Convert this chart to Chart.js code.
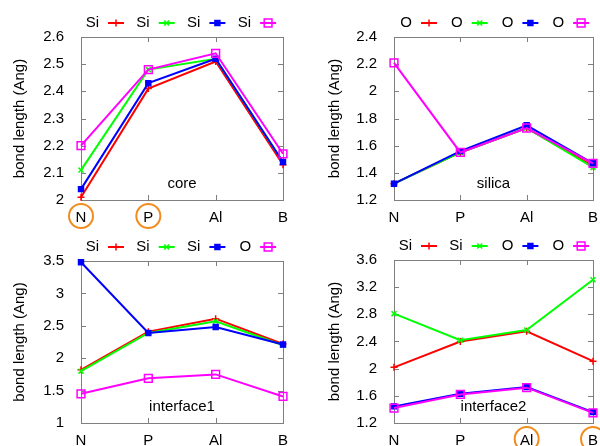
<!DOCTYPE html>
<html>
<head>
<meta charset="utf-8">
<script src="https://cdn.jsdelivr.net/npm/chart.js@4.4.1/dist/chart.umd.min.js"></script>
<style>
body { margin: 0; background: #fff; width: 600px; height: 446px; overflow: hidden; }
.panel { position: absolute; }
</style>
</head>
<body>
<div class="panel" style="left:0;top:0;z-index:2"><canvas id="core" width="300" height="240"></canvas></div>
<div class="panel" style="left:300px;top:0;z-index:2"><canvas id="silica" width="300" height="240"></canvas></div>
<div class="panel" style="left:0;top:223px;z-index:1"><canvas id="iface1" width="300" height="223"></canvas></div>
<div class="panel" style="left:300px;top:223px;z-index:1"><canvas id="iface2" width="300" height="223"></canvas></div>
<script>
const categories = ['N', 'P', 'Al', 'B']

// core
const coreLabels = ['Si', 'Si', 'Si', 'Si']
const core1 = [2.01, 2.41, 2.51, 2.13]
const core2 = [2.11, 2.48, 2.52, 2.14]
const core3 = [2.04, 2.43, 2.52, 2.14]
const core4 = [2.20, 2.48, 2.54, 2.17]
const coreTicks = [2, 2.6, 0.1]
const coreCircled = ['N', 'P']

// silica
const silicaLabels = ['O', 'O', 'O', 'O']
const silica1 = [1.32, 1.55, 1.73, 1.45]
const silica2 = [1.32, 1.55, 1.73, 1.44]
const silica3 = [1.32, 1.56, 1.75, 1.47]
const silica4 = [2.21, 1.55, 1.73, 1.47]
const silicaTicks = [1.2, 2.4, 0.2]

// interface1
const iface1Labels = ['Si', 'Si', 'Si', 'O']
const iface1a = [1.82, 2.41, 2.61, 2.22]
const iface1b = [1.80, 2.39, 2.57, 2.20]
const iface1c = [3.48, 2.39, 2.48, 2.21]
const iface1d = [1.45, 1.69, 1.75, 1.41]
const iface1Ticks = [1, 3.5, 0.5]

// interface2
const iface2Labels = ['Si', 'Si', 'O', 'O']
const iface2a = [2.02, 2.40, 2.55, 2.11]
const iface2b = [2.81, 2.42, 2.57, 3.31]
const iface2c = [1.445, 1.63, 1.73, 1.36]
const iface2d = [1.42, 1.62, 1.72, 1.35]
const iface2Ticks = [1.2, 3.6, 0.4]
const iface2Circled = ['Al', 'B']

const colors = ['#ff0000', '#00ff00', '#0000ff', '#ff00ff']
const marks = [
    { pointStyle: 'cross', radius: 3.5, borderWidth: 1.5 },
    { pointStyle: 'crossRot', radius: 3.5, borderWidth: 1.5 },
    { pointStyle: 'rect', radius: 3.5, borderWidth: 1.5 },
    { pointStyle: 'rect', radius: 5.5, borderWidth: 1.5 }
]
const FONT = 'Liberation Sans, Arial, sans-serif'

function makeChart(id, labels, series, ticks, opts) {
    const ctx = document.getElementById(id).getContext('2d')

    const datasets = series.map((d, i) => ({
        label: labels[i],
        data: d,
        borderColor: colors[i],
        backgroundColor: 'rgba(0,0,0,0)',
        borderWidth: 2,
        pointStyle: marks[i].pointStyle,
        pointRadius: marks[i].radius,
        pointBorderWidth: marks[i].borderWidth,
        pointBackgroundColor: i == 2 ? colors[i] : 'rgba(0,0,0,0)',
        pointBorderColor: colors[i],
        tension: 0,
        clip: false,
        order: 3 - i
    }))

    const framePlugin = {
        id: 'frame',
        beforeDatasetsDraw(chart) {
            const c = chart.ctx
            const a = chart.chartArea
            const x = chart.scales.x, y = chart.scales.y
            c.save()
            c.strokeStyle = '#7f7f7f'
            c.lineWidth = 1
            c.beginPath()
            y.ticks.forEach(t => {
                const py = Math.round(y.getPixelForValue(t.value)) + 0.5
                c.moveTo(a.left, py); c.lineTo(a.left + 5, py)
                c.moveTo(a.right, py); c.lineTo(a.right - 5, py)
            })
            x.ticks.forEach((t, i) => {
                const px = Math.round(x.getPixelForTick(i)) + 0.5
                c.moveTo(px, a.bottom); c.lineTo(px, a.bottom - 5)
                c.moveTo(px, a.top); c.lineTo(px, a.top + 5)
            })
            c.stroke()
            c.strokeRect(Math.round(a.left) + 0.5, Math.round(a.top) + 0.5,
                Math.round(a.right - a.left), Math.round(a.bottom - a.top))
            c.restore()
        },
        afterDraw(chart) {
            const c = chart.ctx
            const a = chart.chartArea
            const x = chart.scales.x
            c.save()
            // panel name
            c.fillStyle = '#000'
            c.font = '15px ' + FONT
            c.textAlign = 'center'
            c.textBaseline = 'middle'
            c.fillText(opts.name, (a.left + a.right) / 2, a.bottom - 16)

            // gnuplot style key: text, then sample
            const ly = a.top - 14
            chart.data.datasets.forEach((ds, i) => {
                const tx = a.left + 18 + i * 50.7
                c.fillStyle = '#000'
                c.textAlign = 'right'
                c.fillText(ds.label, tx, ly)
                c.strokeStyle = ds.borderColor
                c.lineWidth = 2
                c.beginPath()
                c.moveTo(tx + 9, ly)
                c.lineTo(tx + 25, ly)
                c.stroke()
                c.fillStyle = ds.pointBackgroundColor
                c.lineWidth = ds.pointBorderWidth
                Chart.helpers.drawPoint(c, {
                    pointStyle: ds.pointStyle,
                    radius: ds.pointRadius,
                    borderWidth: ds.pointBorderWidth,
                    rotation: 0
                }, tx + 17, ly)
            })

            // orange circles round some categories
            c.strokeStyle = '#f28c1e'
            c.lineWidth = 2
            ;(opts.circled || []).forEach(lab => {
                const px = x.getPixelForValue(categories.indexOf(lab))
                c.beginPath()
                c.arc(px, a.bottom + 16, 12, 0, Math.PI * 2)
                c.stroke()
            })
            c.restore()
        }
    }

    return new Chart(ctx, {
        type: 'line',
        data: { labels: categories, datasets: datasets },
        plugins: [framePlugin],
        options: {
            responsive: false,
            animation: false,
            layout: { padding: { left: 0, right: opts.right, top: opts.top, bottom: 0 } },
            plugins: { legend: { display: false }, tooltip: { enabled: false } },
            scales: {
                x: {
                    type: 'category',
                    offset: false,
                    grid: { display: false },
                    border: { display: false },
                    ticks: { color: '#000', font: { family: FONT, size: 15 }, padding: 1, maxRotation: 0, autoSkip: false },
                    afterFit(s) { s.height = opts.xh }
                },
                y: {
                    min: ticks[0],
                    max: ticks[1],
                    grid: { display: false },
                    border: { display: false },
                    ticks: {
                        stepSize: ticks[2],
                        color: '#000',
                        font: { family: FONT, size: 15 },
                        padding: 9,
                        callback: v => String(+v.toFixed(2))
                    },
                    title: {
                        display: true,
                        text: 'bond length (Ang)',
                        color: '#000',
                        font: { family: FONT, size: 15 },
                        padding: { top: opts.titleX - 9, bottom: 0 }
                    },
                    afterFit(s) { s.width = opts.left }
                }
            }
        }
    })
}

makeChart('core', coreLabels, [core1, core2, core3, core4], coreTicks,
    { name: 'core', left: 81, right: 17, top: 37, xh: 40, titleX: 20, circled: coreCircled })
makeChart('silica', silicaLabels, [silica1, silica2, silica3, silica4], silicaTicks,
    { name: 'silica', left: 94, right: 5, top: 37, xh: 40, titleX: 35 })
makeChart('iface1', iface1Labels, [iface1a, iface1b, iface1c, iface1d], iface1Ticks,
    { name: 'interface1', left: 81, right: 17, top: 38, xh: 23, titleX: 20 })
makeChart('iface2', iface2Labels, [iface2a, iface2b, iface2c, iface2d], iface2Ticks,
    { name: 'interface2', left: 94, right: 5, top: 37, xh: 23, titleX: 35, circled: iface2Circled })
</script>
</body>
</html>
